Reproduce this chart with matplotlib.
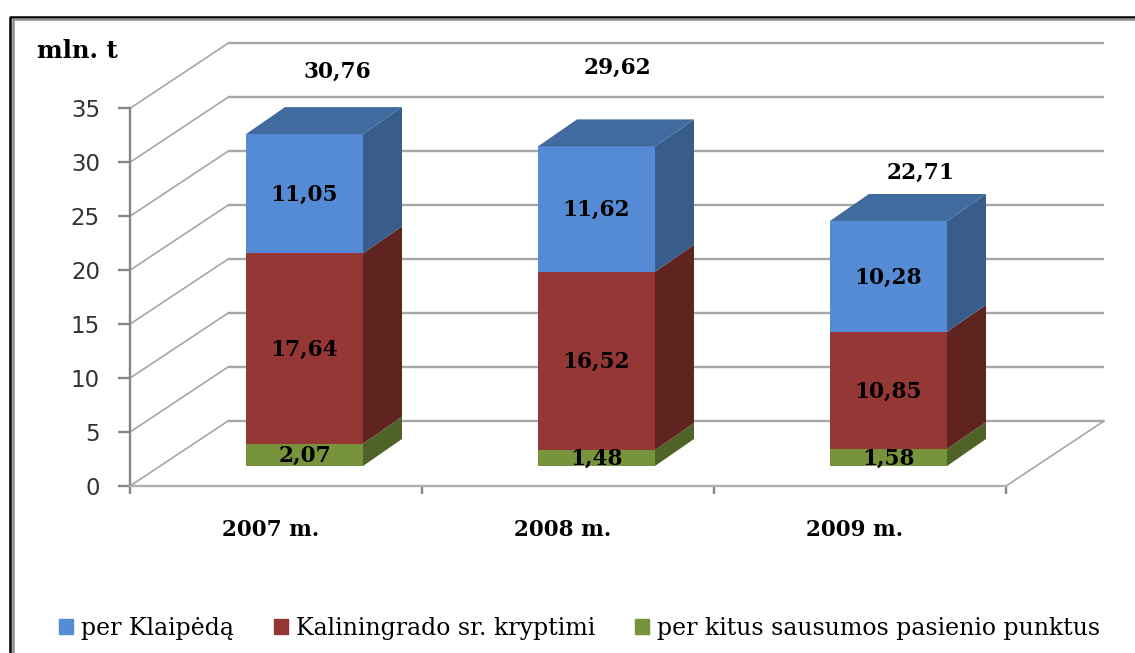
import matplotlib
matplotlib.use("Agg")
import matplotlib.pyplot as plt
from matplotlib.patches import Polygon, Patch
from matplotlib.lines import Line2D

years = ["2007 m.", "2008 m.", "2009 m."]
series_names = ["per Klaipėdą", "Kaliningrado sr. kryptimi", "per kitus sausumos pasienio punktus"]
klaipeda = [11.05, 11.62, 10.28]
kaliningrad = [17.64, 16.52, 10.85]
kiti = [2.07, 1.48, 1.58]
y_ticks = [0, 5, 10, 15, 20, 25, 30, 35]

# layout constants (pixels of the 1135x653 canvas)
W, H = 1135, 653
X0, Y0 = 130, 486          # axis origin
CAT_PX, UNIT_PX = 292.0, 10.79
WALL_DX, WALL_DY = 98 / CAT_PX, 65 / UNIT_PX
BAR_DX, BAR_DY = 39 / CAT_PX, 27 / UNIT_PX
BAR_W = 117 / CAT_PX
BAR_LIFT = 20 / UNIT_PX
BAR_OFFSET = 116 / CAT_PX
TOTAL_SHIFT = [(33, 62), (21, 79), (32, 48)]
LABEL_DROP = 1 / UNIT_PX

fig = plt.figure(figsize=(W / 100, H / 100), dpi=100)
ax = fig.add_axes([0, 0, 1, 1])
ax.set_xlim(-X0 / CAT_PX, (W - X0) / CAT_PX)
ax.set_ylim((Y0 - H) / UNIT_PX, Y0 / UNIT_PX)
ax.patch.set_alpha(0)

GRID = "#a6a6a6"
AXIS = "#868686"
SERIF = "DejaVu Serif"

# walls
for v in y_ticks:
    ax.plot([WALL_DX, 3 + WALL_DX], [v + WALL_DY] * 2, color=GRID, lw=1.7, zorder=1, solid_capstyle="butt")
    ax.plot([0, WALL_DX], [v, v + WALL_DY], color=GRID, lw=1.2, zorder=1)
ax.plot([3, 3 + WALL_DX], [0, WALL_DY], color=GRID, lw=1.2, zorder=1)

# axes
for side in ("top", "right"):
    ax.spines[side].set_visible(False)
ax.spines["left"].set_position(("data", 0))
ax.spines["left"].set_bounds(0, 35)
ax.spines["left"].set_color(AXIS)
ax.spines["left"].set_linewidth(1.7)
ax.spines["bottom"].set_position(("data", 0))
ax.spines["bottom"].set_bounds(0, 3)
ax.spines["bottom"].set_color("#b0b0b0")
ax.spines["bottom"].set_linewidth(1.7)
ax.set_yticks(y_ticks)
ax.tick_params(axis="y", length=8.6, width=1.7, color=AXIS, pad=13, labelsize=16.5, labelcolor="#333333")
ax.set_xticks([0, 1, 2, 3])
ax.set_xticklabels([])
ax.set_xticks([i + 0.48 for i in range(3)], labels=years, minor=True)
ax.tick_params(axis="x", which="major", length=6, width=1.7, color=AXIS)
ax.tick_params(axis="x", which="minor", length=0, pad=24, labelsize=15.5)
for t in ax.get_xticklabels(minor=True):
    t.set_fontfamily(SERIF)
    t.set_fontweight("bold")

# stacked pseudo-3D bars
stack = [
    (kiti, "#77933C", "#4F6228", "#4F6228"),
    (kaliningrad, "#953735", "#5F2320", "#632523"),
    (klaipeda, "#558BD4", "#385D8A", "#416A9E"),
]
for i in range(3):
    left = i + BAR_OFFSET
    right = left + BAR_W
    base = BAR_LIFT
    for values, front, side, top in stack:
        h = values[i]
        ax.bar(left, h, BAR_W, bottom=base, align="edge", color=front, zorder=3, linewidth=0)
        ax.add_patch(Polygon([(right, base), (right + BAR_DX, base + BAR_DY),
                              (right + BAR_DX, base + h + BAR_DY), (right, base + h)],
                             closed=True, facecolor=side, edgecolor="none", zorder=3))
        ax.text(left + BAR_W / 2, base + h / 2 - LABEL_DROP, f"{h:.2f}".replace(".", ","), ha="center", va="center",
                family=SERIF, weight="bold", fontsize=15.6, color="black", zorder=5)
        base += h
    ax.add_patch(Polygon([(left, base), (left + BAR_DX, base + BAR_DY),
                          (right + BAR_DX, base + BAR_DY), (right, base)],
                         closed=True, facecolor=stack[-1][3], edgecolor="none", zorder=3))
    total = kiti[i] + kaliningrad[i] + klaipeda[i]
    sx, sy = TOTAL_SHIFT[i]
    ax.text(left + BAR_W / 2 + sx / CAT_PX, base + sy / UNIT_PX, f"{total:.2f}".replace(".", ","),
            ha="center", va="center", family=SERIF, weight="bold", fontsize=15.6, color="black", zorder=5)

ax.text(-53 / CAT_PX, 435 / UNIT_PX, "mln. t", ha="center", va="center", family=SERIF,
        weight="bold", fontsize=17.5, color="black")

# legend
handles = [Patch(color=c[1]) for c in reversed(stack)]
ax.legend(handles, series_names, loc="center left", bbox_to_anchor=(59 / W, 1 - 628 / H), ncol=3, frameon=False,
          prop={"family": SERIF, "size": 17}, handlelength=0.59, handleheight=0.59, handletextpad=0.34,
          columnspacing=1.7, borderaxespad=0, borderpad=0)

# outer picture frame
fig.add_artist(Line2D([9.5 / W, 9.5 / W, 1], [0, 1 - 16.5 / H, 1 - 16.5 / H], color="black", lw=1.8))
fig.add_artist(Line2D([12.5 / W, 12.5 / W, 1], [0, 1 - 19 / H, 1 - 19 / H], color="#8c8c8c", lw=1.8))

fig.savefig("out.png", dpi=100, facecolor="white")
